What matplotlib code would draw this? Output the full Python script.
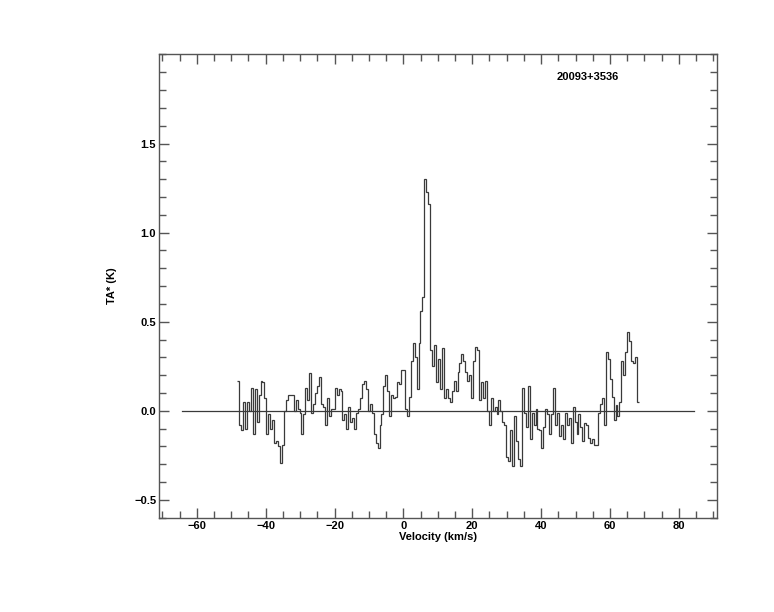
import numpy as np
import matplotlib
matplotlib.use("Agg")
import matplotlib.pyplot as plt
from matplotlib.ticker import MultipleLocator

# spectrum of 20093+3536, channel temperatures (K)
source_name = "20093+3536"
v_first = -48.3   # left edge of first channel (km/s)
v_last = 68.4     # right edge of last channel (km/s)
ta_star = [
    0.17, -0.08, -0.11, 0.05, -0.10, 0.05, 0.00, 0.13, -0.13, 0.12,
    -0.06, 0.09, 0.17, 0.16, 0.07, -0.13, -0.02, -0.10, -0.05, -0.18,
    -0.17, -0.20, -0.29, -0.19, 0.00, 0.06, 0.09, 0.09, 0.09, 0.00,
    0.06, 0.01, -0.01, -0.13, -0.02, 0.13, 0.06, 0.21, -0.01, 0.04,
    0.10, 0.14, 0.19, 0.04, 0.02, -0.08, 0.07, -0.03, 0.01, 0.01,
    0.13, 0.09, 0.12, 0.11, -0.05, -0.02, -0.10, 0.02, -0.06, -0.04,
    -0.10, -0.01, 0.01, 0.07, 0.15, 0.17, 0.12, 0.00, 0.04, -0.01,
    -0.13, -0.18, -0.21, -0.08, -0.02, 0.14, 0.20, 0.11, -0.03, 0.09,
    0.07, 0.08, 0.16, 0.15, 0.23, 0.23, 0.01, -0.03, 0.08, 0.28,
    0.38, 0.30, 0.12, 0.38, 0.56, 0.64, 1.30, 1.23, 1.16, 0.34,
    0.25, 0.37, 0.16, 0.29, 0.12, 0.35, 0.07, 0.12, 0.07, 0.05,
    0.11, 0.17, 0.11, 0.22, 0.27, 0.32, 0.28, 0.22, 0.17, 0.20,
    0.07, 0.28, 0.36, 0.34, 0.06, 0.16, 0.07, 0.17, 0.00, -0.08,
    0.07, 0.00, 0.02, -0.02, 0.06, 0.00, -0.06, -0.08, -0.26, -0.28,
    -0.11, -0.31, -0.03, -0.17, -0.27, -0.31, 0.13, -0.01, -0.09, 0.14,
    -0.16, -0.01, -0.08, 0.01, -0.10, -0.11, -0.21, -0.09, 0.01, -0.02,
    -0.13, -0.02, 0.13, -0.08, -0.01, -0.14, -0.08, -0.16, -0.01, -0.08,
    -0.04, -0.18, 0.02, -0.06, -0.13, -0.02, -0.09, -0.17, -0.07, -0.08,
    -0.15, -0.18, -0.16, -0.19, -0.19, -0.01, 0.04, 0.07, -0.08, 0.33,
    0.29, 0.18, 0.08, -0.05, 0.03, -0.03, 0.05, 0.28, 0.20, 0.33,
    0.44, 0.39, 0.28, 0.27, 0.30, 0.05,
]
baseline_span = [-64.2, 84.3]

plt.rcParams['font.family'] = ['Liberation Sans', 'DejaVu Sans']
plt.rcParams['font.weight'] = 'bold'
plt.rcParams['font.size'] = 8

fig = plt.figure(figsize=(7.74, 6.12), dpi=100)
ax = fig.add_axes([0.2054, 0.154, 0.7206, 0.757])

edges = np.linspace(v_first, v_last, len(ta_star) + 1)
ax.stairs(ta_star, edges, baseline=None, color='#3a3a3a', linewidth=0.9)
ax.plot(baseline_span, [0, 0], color='#3a3a3a', linewidth=0.9)

ax.set_xlim(-71, 91)
ax.set_ylim(-0.6, 2.0)
ax.xaxis.set_major_locator(MultipleLocator(20))
ax.xaxis.set_minor_locator(MultipleLocator(5))
ax.yaxis.set_major_locator(MultipleLocator(0.5))
ax.yaxis.set_minor_locator(MultipleLocator(0.1))
ax.set_yticks([-0.5, 0.0, 0.5, 1.0, 1.5])
ax.tick_params(which='both', direction='in', top=True, right=True,
               color='#555555', width=1)
ax.tick_params(which='major', length=7, pad=2)
ax.tick_params(which='minor', length=5)
for s in ax.spines.values():
    s.set_color('#555555')
    s.set_linewidth(1)

ax.set_xlabel("Velocity (km/s)", fontweight='bold', labelpad=1)
ax.set_ylabel("TA* (K)", fontweight='bold', labelpad=12)
ax.text(0.7126, 0.9517, source_name, transform=ax.transAxes,
        ha='left', va='center', fontweight='bold')

fig.savefig("out.png", dpi=100)
